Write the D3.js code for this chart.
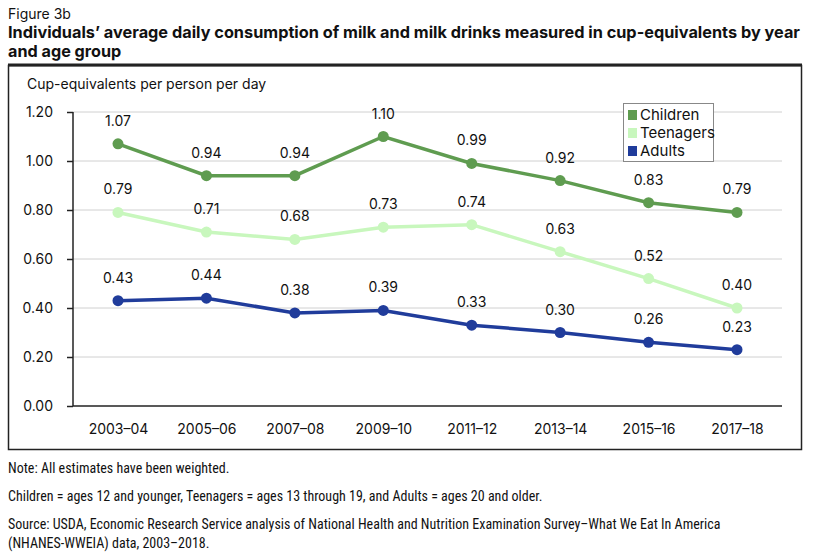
<!DOCTYPE html>
<html><head><meta charset="utf-8">
<script src="https://cdn.jsdelivr.net/npm/d3@7"></script>
<style>body{margin:0;background:#fff}svg{display:block}</style>
</head><body><svg id="c" width="840" height="560"></svg>
<script>
const categories = ["2003–04","2005–06","2007–08","2009–10","2011–12","2013–14","2015–16","2017–18"];
const children = [1.07,0.94,0.94,1.10,0.99,0.92,0.83,0.79];
const teenagers = [0.79,0.71,0.68,0.73,0.74,0.63,0.52,0.40];
const adults = [0.43,0.44,0.38,0.39,0.33,0.30,0.26,0.23];
const yTicks = [0,0.2,0.4,0.6,0.8,1.0,1.2];
const seriesNames = ["Children","Teenagers","Adults"];
const colors = ["#5f9c50","#c8f7bd","#203c9b"];

const svg = d3.select("#c");
const font = "Inter, 'Open Sans', 'Noto Sans', sans-serif";
svg.append("text").attr("x",8).attr("y",19).attr("font-family",font).attr("font-size",14).attr("fill","#111").text("Figure 3b");
svg.append("text").attr("x",8).attr("y",38).attr("font-family",font).attr("font-size",16.2).attr("font-weight","bold").attr("fill","#111")
  .attr("textLength",792).attr("lengthAdjust","spacingAndGlyphs")
  .text("Individuals’ average daily consumption of milk and milk drinks measured in cup-equivalents by year");
svg.append("text").attr("x",8).attr("y",57).attr("font-family",font).attr("font-size",16.2).attr("font-weight","bold").attr("fill","#111").text("and age group");

// frame
svg.append("rect").attr("x",8.5).attr("y",65.5).attr("width",793).attr("height",384).attr("fill","none").attr("stroke","#222").attr("stroke-width",1.5);
svg.append("line").attr("x1",8).attr("x2",802).attr("y1",65).attr("y2",65).attr("stroke","#222").attr("stroke-width",3);

svg.append("text").attr("x",27).attr("y",89).attr("font-family",font).attr("font-size",14).attr("fill","#111").text("Cup-equivalents per person per day");

const x = d3.scalePoint().domain(categories).range([118,737]);
const y = d3.scaleLinear().domain([0,1.2]).range([406,112]);

// gridlines
svg.append("g").selectAll("line").data(yTicks.filter(d=>d>0)).join("line")
  .attr("x1",73).attr("x2",782).attr("y1",d=>y(d)).attr("y2",d=>y(d)).attr("stroke","#d0d0d0").attr("stroke-width",1);

const yAxis = svg.append("g").attr("transform","translate(73,0)")
  .call(d3.axisLeft(y).tickValues(yTicks).tickFormat(d3.format(".2f")).tickSize(6).tickPadding(14));
yAxis.select(".domain").attr("stroke","#222").attr("stroke-width",1.5).attr("d","M0,"+y(1.2)+"V"+y(0));
yAxis.selectAll(".tick line").attr("stroke","#222").attr("stroke-width",1.5);
yAxis.selectAll("text").attr("font-family",font).attr("font-size",14).attr("fill","#111");

const xAxis = svg.append("g").attr("transform","translate(0,406)")
  .call(d3.axisBottom(x).tickSize(0).tickPadding(18));
xAxis.select(".domain").attr("stroke","#222").attr("stroke-width",1.5).attr("d","M73,0H782");
xAxis.selectAll("text").attr("font-family",font).attr("font-size",14).attr("fill","#111");

const all = [children,teenagers,adults];
const line = d3.line().x((d,i)=>x(categories[i])).y(d=>y(d));
all.forEach((vals,si)=>{
  const g = svg.append("g");
  g.append("path").attr("d",line(vals)).attr("fill","none").attr("stroke",colors[si]).attr("stroke-width",3.5);
  g.selectAll("circle").data(vals).join("circle").attr("cx",(d,i)=>x(categories[i])).attr("cy",d=>y(d)).attr("r",5.5).attr("fill",colors[si]);
  g.selectAll("text").data(vals).join("text").attr("x",(d,i)=>x(categories[i])).attr("y",d=>y(d)-18)
    .attr("text-anchor","middle").attr("font-family",font).attr("font-size",14).attr("fill","#111").text(d=>d.toFixed(2));
});

// legend
const lg = svg.append("g");
lg.append("rect").attr("x",623.5).attr("y",103.5).attr("width",90).attr("height",58).attr("fill","#fff").attr("stroke","#888").attr("stroke-width",1);
seriesNames.forEach((n,i)=>{
  lg.append("rect").attr("x",628).attr("y",110+i*18).attr("width",9).attr("height",10).attr("fill",colors[i]);
  lg.append("text").attr("x",640).attr("y",120+i*18).attr("font-family",font).attr("font-size",15).attr("fill","#111").text(n);
});

const nf = "'Liberation Sans Narrow', 'Roboto Condensed', Roboto, sans-serif";
const notes = [
  [473,"Note: All estimates have been weighted."],
  [501,"Children = ages 12 and younger, Teenagers = ages 13 through 19, and Adults = ages 20 and older."],
  [529,"Source: USDA, Economic Research Service analysis of National Health and Nutrition Examination Survey–What We Eat In America"],
  [548,"(NHANES-WWEIA) data, 2003–2018."]
];
notes.forEach(([yy,t])=>svg.append("text").attr("x",8).attr("y",yy).attr("font-family",nf).attr("font-size",14).attr("fill","#111").text(t));
</script></body></html>
